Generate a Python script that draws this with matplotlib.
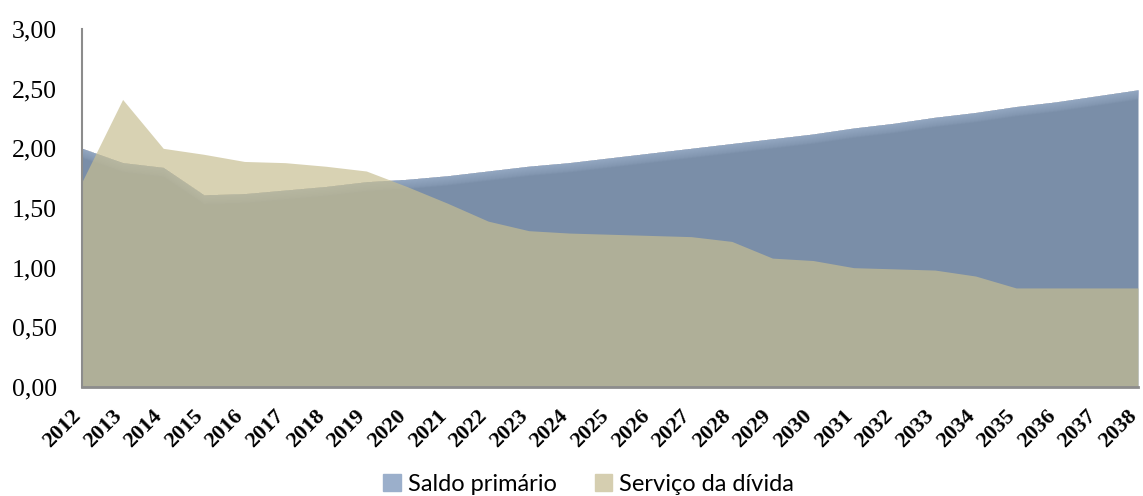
import numpy as np
import matplotlib
matplotlib.use("Agg")
import matplotlib.pyplot as plt
import matplotlib.transforms as mtransforms
from matplotlib.patches import Patch
from matplotlib.ticker import FuncFormatter

# series
anos = list(range(2012, 2039))
saldo_primario = [2.00, 1.88, 1.84, 1.61, 1.62, 1.65, 1.68, 1.72, 1.74,
                  1.77, 1.81, 1.85, 1.88, 1.92, 1.96, 2.00, 2.04, 2.08,
                  2.12, 2.17, 2.21, 2.26, 2.30, 2.35, 2.39, 2.44, 2.49]
servico_divida = [1.72, 2.41, 2.00, 1.95, 1.89, 1.88, 1.85, 1.81, 1.68,
                  1.54, 1.39, 1.31, 1.29, 1.28, 1.27, 1.26, 1.22, 1.08,
                  1.06, 1.00, 0.99, 0.98, 0.93, 0.83, 0.83, 0.83, 0.83]
rotulos = ["Saldo primário", "Serviço da dívida"]

x = np.array(anos)
azul = np.array(saldo_primario)
caqui = np.array(servico_divida)

fig = plt.figure(figsize=(11.43, 4.96), dpi=100)
ax = fig.add_axes([82 / 1143, 109 / 496, 1056 / 1143, 358 / 496])

# blue area with a lighter band along its top edge
ax.fill_between(x, 0, azul, color="#7a8ea8", lw=0, zorder=1)
n = 20
for k in range(n):
    ax.fill_between(x, azul - 0.08 * (k + 1) / n, azul, color="#a4b8d2",
                    alpha=0.06, lw=0, zorder=1.5)

# khaki area, semi-transparent over the blue
ax.fill_between(x, 0, caqui, color="#c7be92", alpha=0.69, lw=0, zorder=2)

ax.set_xlim(2012, 2038)
ax.set_ylim(0, 3)
ax.set_yticks(np.arange(0, 3.01, 0.5))
ax.yaxis.set_major_formatter(FuncFormatter(lambda v, p: f"{v:.2f}".replace(".", ",")))
ax.set_xticks(x)
ax.set_xticklabels([])
for t in ax.get_yticklabels():
    t.set_fontfamily("Liberation Serif")
    t.set_fontsize(18.5)
ax.tick_params(axis="both", length=0)
ax.tick_params(axis="y", pad=18)

# year labels drawn by hand so they sit diagonally under each tick
trans = mtransforms.blended_transform_factory(ax.transData, ax.transAxes)
desloc = mtransforms.ScaledTranslation(-11 / 100, -19 / 100, fig.dpi_scale_trans)
for a in anos:
    ax.text(a, 0, str(a), transform=trans + desloc, rotation=45,
            ha="right", va="top", rotation_mode="anchor",
            fontfamily="Liberation Serif", fontweight="bold", fontsize=16,
            clip_on=False)

for s in ["top", "right"]:
    ax.spines[s].set_visible(False)
ax.spines["left"].set_color("#8c8c8c")
ax.spines["left"].set_linewidth(1.5)
ax.spines["bottom"].set_color("#8c8c8c")
ax.spines["bottom"].set_linewidth(2)

handles = [Patch(color="#9bafcb"), Patch(color="#d5ceb0")]
fig.legend(handles, rotulos, loc="lower center", bbox_to_anchor=(0.515, -0.04),
           ncol=2, frameon=False, prop={"family": "Lato", "size": 17},
           handlelength=0.75, handleheight=0.75, handletextpad=0.3,
           columnspacing=1.6)

fig.savefig("out.png", dpi=100)
